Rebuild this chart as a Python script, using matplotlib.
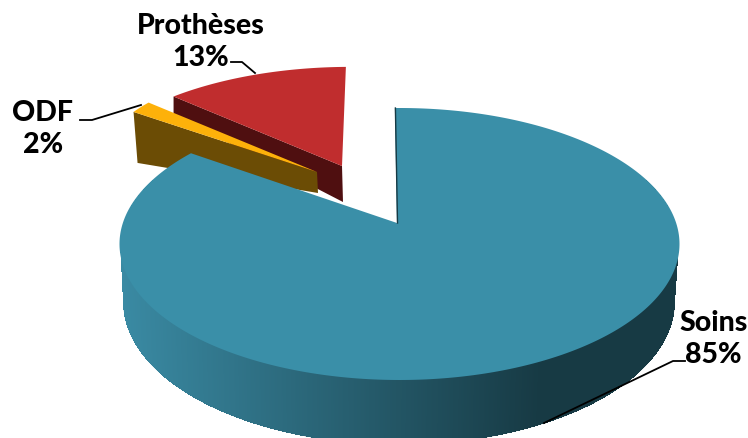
import numpy as np
import matplotlib
matplotlib.use("Agg")
import matplotlib.pyplot as plt
from matplotlib.collections import PolyCollection, LineCollection
from matplotlib.colors import to_rgb

# Share of each category, clockwise from twelve o'clock
categories = ["Soins", "ODF", "Prothèses"]
shares = [85, 2, 13]

W, H = 748, 439
fig = plt.figure(figsize=(W / 100, H / 100), dpi=100)
ax = fig.add_axes([0, 0, 1, 1])
ax.set_xlim(0, W)
ax.set_ylim(H, 0)
ax.axis("off")

plt.rcParams["font.family"] = ["Lato", "DejaVu Sans"]

# Perspective of the pie: top and bottom rims are ellipses, the apex sits behind the centre
TOP = dict(cx=399.5, cy=245.0, a=280.0, b=136.0)
WALL_TOP = dict(cx=399.5, cy=245.0, a=278.5, b=134.5)
BOTTOM = dict(cx=399.0, cy=303.0, a=275.0, b=142.0)
TILT = -0.154
APEX = np.array([397.0, 224.0])
START_TURN = -1.1 / 360


def rim(fraction, e=TOP):
    """Project pie fractions (0 at top, clockwise) onto a rim ellipse."""
    t = 2 * np.pi * (np.asarray(fraction, dtype=float) + START_TURN)
    u, v = np.sin(t), -np.cos(t)
    den = 1 + TILT * v
    x = u * np.sqrt(1 - TILT ** 2) / den
    y = (v + TILT) / den
    return np.column_stack([e["cx"] + e["a"] * x, e["cy"] + e["b"] * y])


def exploded_rim(fraction, apex, sx, shear, sy):
    """Rim of a slice pulled out of the pie, farther away and so drawn smaller."""
    p = rim(fraction) - APEX
    return np.column_stack([apex[0] + sx * p[:, 0] + shear * p[:, 1], apex[1] + sy * p[:, 1]])


edges = np.cumsum([0] + shares) / sum(shares)

# Prothèses: pulled back, side face first
red_f = np.linspace(edges[2], edges[3], 60)
red_apex = (342.0, 167.0)
red_rim = exploded_rim(red_f, red_apex, 0.94, -0.051, 0.862)
ax.fill([red_rim[0, 0], red_apex[0], red_apex[0] + 1, red_rim[0, 0]],
        [red_rim[0, 1], red_apex[1], red_apex[1] + 36, red_rim[0, 1] + 18],
        color="#4f0f10", lw=0, zorder=1)
ax.fill(np.r_[red_apex[0], red_rim[:, 0]], np.r_[red_apex[1], red_rim[:, 1]],
        color="#c02d2e", lw=0, zorder=2)

# ODF
odf_f = np.linspace(edges[1], edges[2], 12)
odf_apex = (317.0, 173.0)
odf_rim = exploded_rim(odf_f, odf_apex, 0.80, 0.267, 0.861)
ax.fill([odf_rim[0, 0], odf_apex[0], odf_apex[0] + 1, odf_rim[0, 0] + 4],
        [odf_rim[0, 1], odf_apex[1], odf_apex[1] + 21, odf_rim[0, 1] + 51],
        color="#6b4c05", lw=0, zorder=3)
ax.fill(np.r_[odf_apex[0], odf_rim[:, 0]], np.r_[odf_apex[1], odf_rim[:, 1]],
        color="#fdb10a", lw=0, zorder=4)

# Soins: curved wall shaded from left to right
light, dark = np.array(to_rgb("#3a8aa3")), np.array(to_rgb("#173a44"))
wall_f = np.linspace(0.19, 0.81, 900)
top_pts, bot_pts = rim(wall_f, WALL_TOP), rim(wall_f, BOTTOM)
quads, shades = [], []
for i in range(len(wall_f) - 1):
    quads.append([top_pts[i], top_pts[i + 1], bot_pts[i + 1], bot_pts[i]])
    k = np.clip((top_pts[i, 0] - 120) / 420, 0, 1)
    shades.append(light + (dark - light) * k)
ax.add_collection(PolyCollection(quads, facecolors=shades, edgecolors=shades,
                                 linewidths=0.5, antialiased=False, zorder=5))
# Soften the stepped lower silhouette of the wall
ax.add_collection(LineCollection([[bot_pts[i], bot_pts[i + 1]] for i in range(len(wall_f) - 1)],
                                 colors=shades, linewidths=1.0, zorder=5))

soins_f = np.linspace(edges[0], edges[1], 400)
soins_rim = rim(soins_f)
ax.fill(np.r_[APEX[0], soins_rim[:, 0]], np.r_[APEX[1], soins_rim[:, 1]],
        color="#3a8fa8", lw=0, zorder=6)
ax.plot([soins_rim[0, 0] + 0.5, APEX[0] + 0.5], [soins_rim[0, 1], APEX[1]], color="#173a44", lw=1.0, zorder=7)

# Labels and their leader lines
labels = [
    (f"{categories[0]}\n{shares[0]}%", 713.5, 339, [(685, 362), (673, 362), (544, 424)]),
    (f"{categories[1]}\n{shares[1]}%", 43, 129, [(80, 121), (92, 121), (141, 106)]),
    (f"{categories[2]}\n{shares[2]}%", 201, 42, [(231, 63), (242, 63), (255, 74)]),
]
for text, x, y, leader in labels:
    ax.text(x, y, text, ha="center", va="center", fontsize=20.5, fontweight="black",
            linespacing=1.25, color="black", zorder=9)
    xs, ys = zip(*leader)
    ax.plot(xs, ys, color="black", lw=1.3, zorder=8)

fig.savefig("out.png", dpi=100, facecolor="white")
